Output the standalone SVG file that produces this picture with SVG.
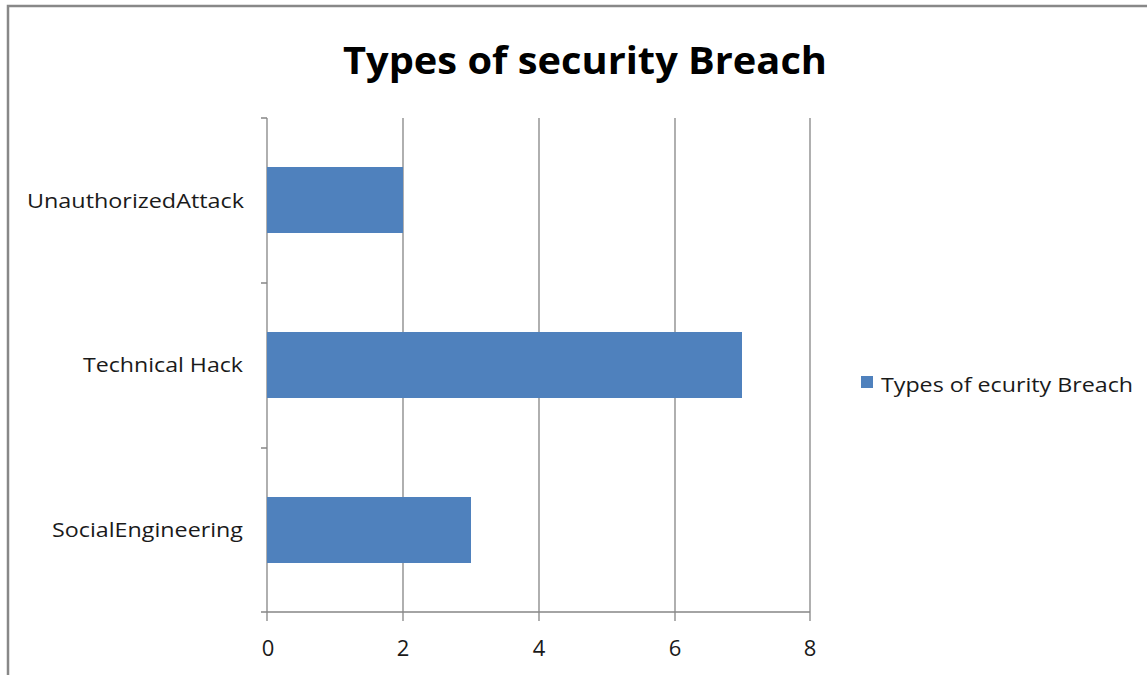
<svg xmlns="http://www.w3.org/2000/svg" width="1147" height="675" viewBox="0 0 1147 675">
<style>
.grid{stroke:#868686;stroke-width:1.3;fill:none}
.bar{fill:#4F81BD}
.lbl{font-family:"Open Sans","Liberation Sans",sans-serif;font-size:20px;fill:#1a1a1a}
.num{font-family:"Open Sans","Liberation Sans",sans-serif;font-size:22px;fill:#1a1a1a}
.title{font-family:"Open Sans","Liberation Sans",sans-serif;font-size:38px;font-weight:bold;fill:#000}
</style>
<rect x="0" y="0" width="1147" height="675" fill="#fff"/>
<rect x="8" y="6" width="1160" height="690" fill="none" stroke="#888" stroke-width="2.5"/>
<g id="title"><text class="title" x="585" y="74" text-anchor="middle" textLength="484" lengthAdjust="spacingAndGlyphs">Types of security Breach</text></g>
<g id="gridlines">
<path class="grid" d="M403 118V621M539 118V621M675 118V621M810 118V621M267 118V621"/>
<path class="grid" d="M261 612H810M261 118H267M261 283H267M261 448H267"/>
</g>
<g id="bars">
<rect id="bar-unauth" class="bar" x="267" y="167" width="136" height="66"/>
<rect id="bar-tech" class="bar" x="267" y="332" width="475" height="66"/>
<rect id="bar-social" class="bar" x="267" y="497" width="204" height="66"/>
</g>
<g id="category-labels">
<text class="lbl" x="244" y="208" text-anchor="end" textLength="217" lengthAdjust="spacingAndGlyphs">UnauthorizedAttack</text>
<text class="lbl" x="243" y="372" text-anchor="end" textLength="160" lengthAdjust="spacingAndGlyphs">Technical Hack</text>
<text class="lbl" x="243" y="537" text-anchor="end" textLength="191" lengthAdjust="spacingAndGlyphs">SocialEngineering</text>
</g>
<g id="axis-labels">
<text class="num" x="268" y="656" text-anchor="middle">0</text>
<text class="num" x="403" y="656" text-anchor="middle">2</text>
<text class="num" x="539" y="656" text-anchor="middle">4</text>
<text class="num" x="675" y="656" text-anchor="middle">6</text>
<text class="num" x="810" y="656" text-anchor="middle">8</text>
</g>
<g id="legend">
<rect class="bar" x="861" y="376" width="12" height="12"/>
<text class="lbl" x="881" y="392" textLength="252" lengthAdjust="spacingAndGlyphs">Types of ecurity Breach</text>
</g>
</svg>
